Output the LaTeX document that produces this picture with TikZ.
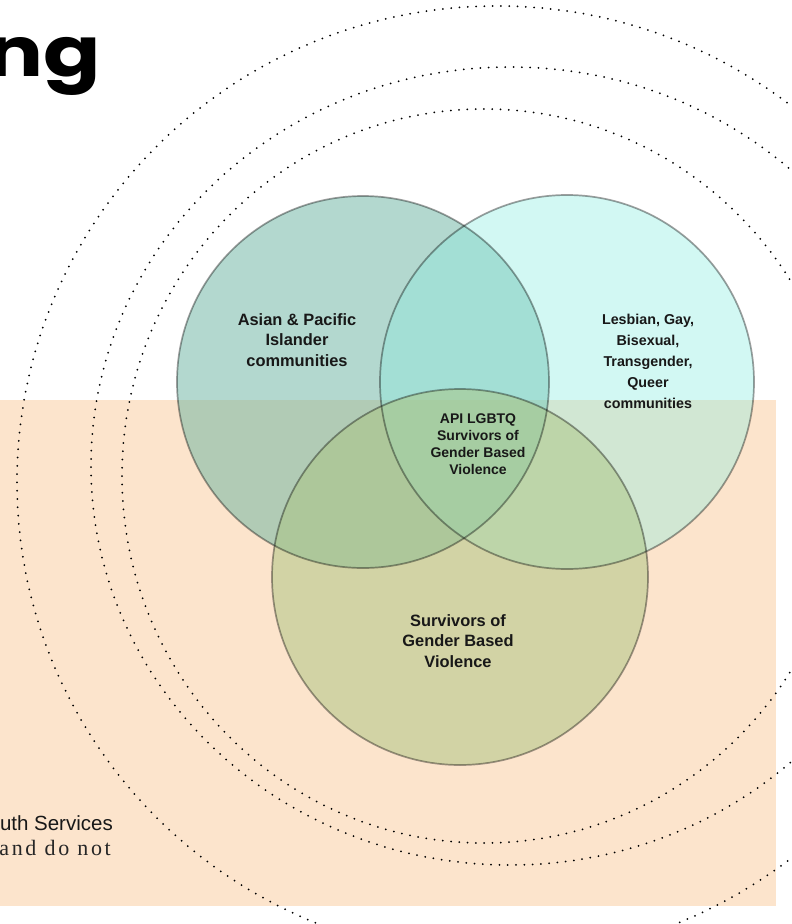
\documentclass[tikz,border=0pt]{standalone}
\usepackage{fontspec}
\setmainfont{Liberation Sans}
\newfontfamily\titlefont{Poppins}
\newfontfamily\notefont[LetterSpace=12]{Liberation Serif}
\definecolor{peach}{RGB}{252,228,204}
\definecolor{apicol}{RGB}{104,179,160}
\definecolor{lgbcol}{RGB}{139,237,224}
\definecolor{survcol}{RGB}{170,196,128}
\definecolor{inkcol}{RGB}{24,24,24}
\begin{document}
\begin{tikzpicture}[x=1pt,y=-1pt,
  peachbox/.style={rectangle, draw=none, fill=peach, inner sep=0pt, minimum width=776pt, minimum height=506pt},
  vennfill/.style={circle, draw=none, inner sep=0pt},
  vennline/.style={draw=black, draw opacity=0.38, line width=1.7pt},
  dotring/.style={draw=black, line width=2pt, line cap=round, dash pattern=on 0pt off 8.3pt},
  vtext/.style={align=center, inner sep=0pt, text=inkcol},
  bigtext/.style={vtext, font=\bfseries\fontsize{16.4}{20.8}\selectfont},
  midtext/.style={vtext, font=\bfseries\fontsize{14.3}{21}\selectfont},
  coretext/.style={vtext, font=\bfseries\fontsize{14}{17}\selectfont}]
\useasboundingbox (0,0) rectangle (792,924);
\fill[white] (0,0) rectangle (792,924);
% background band
\node[peachbox] (band) at (388,653) {};
% venn circles
\node[vennfill, fill=apicol, fill opacity=0.5, minimum size=372pt] (api) at (363,382) {};
\node[vennfill, fill=lgbcol, fill opacity=0.38, minimum size=374pt] (lgb) at (567,382) {};
\node[vennfill, fill=survcol, fill opacity=0.5, minimum size=376pt] (surv) at (460,577) {};
\draw[vennline] (api.center) circle[radius=186pt];
\draw[vennline] (lgb.center) circle[radius=187pt];
\draw[vennline] (surv.center) circle[radius=188pt];
% labels
\node[bigtext] (apitxt) at (297,340) {Asian \& Pacific\\Islander\\communities};
\node[midtext] (lgbtxt) at (648,361) {Lesbian, Gay,\\Bisexual,\\Transgender,\\Queer\\communities};
\node[coretext] (coretxt) at (478,444) {API LGBTQ\\Survivors of\\Gender Based\\Violence};
\node[bigtext] (survtxt) at (458,641) {Survivors of\\Gender Based\\Violence};
% dotted rings
\coordinate (ringA) at (497,482);
\coordinate (ringB) at (510,466);
\coordinate (ringC) at (484,476);
\draw[dotring] (ringA) ellipse[x radius=480pt, y radius=476pt];
\draw[dotring] (ringB) ellipse[x radius=419pt, y radius=399pt];
\draw[dotring] (ringC) ellipse[x radius=362pt, y radius=367pt];
% title fragment and note text
\node[anchor=base east, inner sep=0pt, text=black, font=\titlefont\bfseries\fontsize{91}{91}\selectfont] (title) at (101,76) {\scalebox{0.93}[0.76]{ng}};
\node[anchor=base east, inner sep=0pt, text=inkcol, font=\fontsize{20.5}{24}\selectfont] (note1) at (113,830) {uth Services};
\node[anchor=base east, inner sep=0pt, text=black!85, font=\notefont\fontsize{22}{26}\selectfont] (note2) at (111,855) {and do not};
\end{tikzpicture}
\end{document}
